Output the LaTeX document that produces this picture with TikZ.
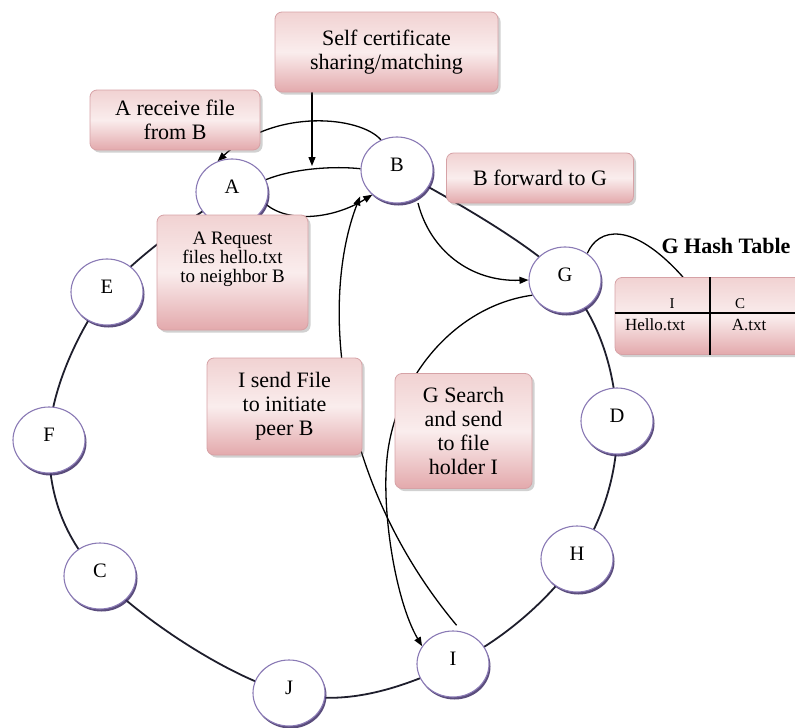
\documentclass[tikz,border=0pt]{standalone}
\usepackage{fontspec}
\setmainfont{Liberation Serif}
\usetikzlibrary{shapes.geometric,shadows,arrows.meta}
\definecolor{ringc}{HTML}{1E1E2C}
\definecolor{peerb}{HTML}{8A7AB5}
\definecolor{peers}{HTML}{3E2E66}
\definecolor{boxb}{HTML}{D6A2A6}
\definecolor{boxt}{HTML}{F1D2D2}
\definecolor{boxm}{HTML}{FAEDED}
\definecolor{boxbot}{HTML}{E3A9AC}
\pgfdeclarelayer{bg}
\pgfsetlayers{bg,main}
\newcommand{\peerlbl}[1]{\raisebox{10pt}{#1}}
\begin{document}
\begin{tikzpicture}[x=1pt,y=-1pt,
  peer/.style={ellipse, minimum width=72pt, minimum height=66pt, inner sep=0pt,
    draw=peerb, line width=1.1pt, fill=white,
    drop shadow={shadow xshift=1.5pt, shadow yshift=-2.5pt, fill=peers, opacity=0.85},
    font=\fontsize{20.5}{22}\selectfont},
  pinkbox/.style={rounded corners=7pt, draw=boxb, line width=0.8pt,
    top color=boxt, bottom color=boxbot, middle color=boxm,
    drop shadow={shadow xshift=2.5pt, shadow yshift=-2.5pt, opacity=0.3, fill=black!60},
    align=center, inner sep=0pt, font=\fontsize{22}{24}\selectfont},
  ring/.style={draw=ringc, line width=1.8pt},
  arr/.style={-{Triangle[length=9pt,width=7pt]}, line width=1.3pt, draw=black},
  plainline/.style={line width=1.3pt, draw=black},
  tline/.style={line width=1.2pt, draw=black},
  cellsmall/.style={font=\fontsize{15}{17}\selectfont, inner sep=0pt},
  cellbig/.style={font=\fontsize{17}{19}\selectfont, inner sep=0pt}
]
\useasboundingbox (0,0) rectangle (795,728);

% peers
\node[peer] (A) at (232,192) {\peerlbl{A}};
\node[peer] (B) at (397,170) {\peerlbl{B}};
\node[peer] (G) at (565,280) {\peerlbl{G}};
\node[peer] (E) at (107,292) {\peerlbl{E}};
\node[peer] (F) at (49,440) {\peerlbl{F}};
\node[peer] (C) at (100,576) {\peerlbl{C}};
\node[peer] (J) at (289,693) {\peerlbl{J}};
\node[peer] (I) at (453,664) {\peerlbl{I}};
\node[peer] (H) at (577,559) {\peerlbl{H}};
\node[peer] (D) at (617,421) {\peerlbl{D}};

% boxes
\node[pinkbox, minimum width=223pt, minimum height=80pt] (selfbox) at (386.5,52) {Self certificate\\sharing/matching};
\node[pinkbox, minimum width=170pt, minimum height=60pt] (recvbox) at (175,120) {A receive file\\from B};
\node[pinkbox, minimum width=187pt, minimum height=50pt] (fwdbox) at (540,178) {B forward to G};
\node[pinkbox, minimum width=151pt, minimum height=115pt] (reqbox) at (232.5,272.5) {};
\node[font=\fontsize{19}{19}\selectfont, align=center, inner sep=0pt] (reqtext) at (232.5,259) {A Request\\files hello.txt\\to neighbor B};
\node[pinkbox, minimum width=155pt, minimum height=97pt] (sendbox) at (284.5,406.5) {I send File\\to initiate\\peer B};
\node[pinkbox, minimum width=137pt, minimum height=115pt] (searchbox) at (463.5,431) {G Search\\and send\\to file\\holder I};

% hash table
\node[pinkbox, minimum width=190pt, minimum height=77pt] (htable) at (710,316) {};
\coordinate (hrow) at (0,313);
\draw[tline] (htable.north) -- (htable.south);
\draw[tline] (htable.west |- hrow) -- (htable.east |- hrow);
\node[cellsmall] (hI) at (672,304) {I};
\node[cellsmall] (hC) at (740,304) {C};
\node[cellbig] (hHello) at (655,325) {Hello.txt};
\node[cellbig] (hAtxt) at (749,325) {A.txt};
\node[font=\bfseries\fontsize{22}{24}\selectfont, inner sep=0pt] (htitle) at (726,246) {G Hash Table};

\coordinate (certend) at (312,166);
\coordinate (hx) at (683,0);

\begin{pgfonlayer}{bg}
  % ring
  \draw[ring] plot[smooth, tension=0.6] coordinates {(A.center) (E.center) (F.center) (C.center) (J.center) (I.center) (H.center) (D.center) (G.center) (B.center)};
  % A - B link
  \draw[plainline] (A.20) .. controls (295,168) and (335,166) .. (B.178);
  % self certificate arrow
  \draw[arr] (selfbox.south west -| certend) -- (certend);
  % B -> A over the top
  \draw[arr] (B.118) .. controls (360,116) and (275,108) .. (A.115);
  % A -> B request
  \draw[arr] (A.-20) .. controls (290,224) and (335,218) .. (B.225);
  % I -> B send file
  \draw[arr, shorten <=8pt, shorten >=12pt] (I.75) .. controls (335,480) and (320,300) .. (B.205);
  % B -> G forward
  \draw[arr, shorten <=5pt] (B.-55) .. controls (430,250) and (470,282) .. (G.180);
  % G -> I search
  \draw[arr] (G.205) .. controls (460,305) and (400,370) .. (388,450) .. controls (380,505) and (395,600) .. (I.150);
  % G -> hash table
  \draw[plainline] (G.50) .. controls (598,228) and (632,220) .. (htable.north -| hx);
\end{pgfonlayer}
\end{tikzpicture}
\end{document}
